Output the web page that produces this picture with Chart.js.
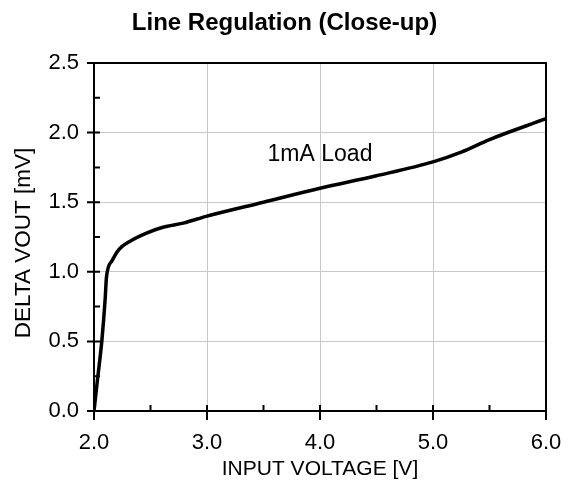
<!DOCTYPE html>
<html>
<head>
<meta charset="utf-8">
<script src="https://cdn.jsdelivr.net/npm/chart.js@4/dist/chart.umd.min.js"></script>
<style>
  html, body { margin: 0; padding: 0; background: #fff; }
  #wrap { width: 569px; height: 484px; }
</style>
</head>
<body>
<div id="wrap"><canvas id="chart" width="569" height="484"></canvas></div>
<script>
// ── Data ──────────────────────────────────────────────────────────────────
const inputVoltage = [2.00, 2.03, 2.07, 2.10, 2.11, 2.16, 2.22, 2.32, 2.47, 2.61, 2.79, 3.00, 3.50, 4.00, 4.50, 5.00, 5.25, 5.50, 6.00];
const deltaVout    = [0.00, 0.22, 0.51, 0.82, 0.96, 1.08, 1.16, 1.22, 1.28, 1.32, 1.35, 1.40, 1.50, 1.60, 1.69, 1.79, 1.86, 1.95, 2.10];
const xTicks = [2.0, 3.0, 4.0, 5.0, 6.0];
const yTicks = [0.0, 0.5, 1.0, 1.5, 2.0, 2.5];
const xMinorTicks = [2.5, 3.5, 4.5, 5.5];
const yMinorTicks = [0.25, 0.75, 1.25, 1.75, 2.25];
const seriesLabel = '1mA Load';
const seriesLabelPos = { x: 4.0, y: 1.84 };
const yTitle = 'DELTA VOUT [mV]';

const font = "Arial, 'Liberation Sans', sans-serif";

// Frame + inward/outward tick marks, drawn over the grid
const framePlugin = {
    id: 'frame',
    afterDatasetsDraw(chart) {
        const { ctx, chartArea: a, scales: { x, y } } = chart;
        ctx.save();
        ctx.strokeStyle = '#000';
        ctx.lineWidth = 2;
        ctx.strokeRect(a.left, a.top, a.right - a.left, a.bottom - a.top);
        ctx.beginPath();
        yTicks.forEach(v => { const p = y.getPixelForValue(v); ctx.moveTo(a.left - 7, p); ctx.lineTo(a.left + 6, p); });
        yMinorTicks.forEach(v => { const p = y.getPixelForValue(v); ctx.moveTo(a.left, p); ctx.lineTo(a.left + 6, p); });
        xTicks.forEach(v => { const p = x.getPixelForValue(v); ctx.moveTo(p, a.bottom + 9); ctx.lineTo(p, a.bottom - 6); });
        xMinorTicks.forEach(v => { const p = x.getPixelForValue(v); ctx.moveTo(p, a.bottom); ctx.lineTo(p, a.bottom - 6); });
        ctx.stroke();
        ctx.fillStyle = '#000';
        ctx.textAlign = 'center';
        ctx.textBaseline = 'middle';
        // series label
        ctx.font = `23px ${font}`;
        ctx.fillText(seriesLabel, x.getPixelForValue(seriesLabelPos.x), y.getPixelForValue(seriesLabelPos.y));
        // y axis title, sits a little below the plot centre in the original
        ctx.font = `22.5px ${font}`;
        ctx.translate(24, (a.top + a.bottom) / 2 + 6);
        ctx.rotate(-Math.PI / 2);
        ctx.fillText(yTitle, 0, 0);
        ctx.restore();
    }
};

new Chart(document.getElementById('chart'), {
    type: 'line',
    data: {
        datasets: [{
            label: seriesLabel,
            data: inputVoltage.map((v, i) => ({ x: v, y: deltaVout[i] })),
            borderColor: '#000',
            borderWidth: 3.5,
            pointRadius: 0,
            cubicInterpolationMode: 'monotone',
            fill: false
        }]
    },
    options: {
        responsive: false, animation: false,
        layout: { padding: 0 },
        plugins: {
            legend: { display: false },
            tooltip: { enabled: false },
            title: {
                display: true,
                text: 'Line Regulation (Close-up)',
                color: '#000',
                font: { family: font, size: 24, weight: 'bold', lineHeight: 1.2 },
                padding: { top: 9, bottom: 25.2 }
            }
        },
        scales: {
            x: {
                type: 'linear', min: 2, max: 6,
                afterBuildTicks: s => { s.ticks = xTicks.map(v => ({ value: v })); },
                afterFit: s => { s.height = 73; s.paddingLeft = 0; s.paddingRight = 23; },
                grid: { color: '#c8c8c8', lineWidth: 1, drawTicks: false },
                border: { display: false },
                ticks: { color: '#000', padding: 19, font: { family: font, size: 22 }, callback: v => v.toFixed(1) },
                title: { display: true, text: 'INPUT VOLTAGE [V]', color: '#000', font: { family: font, size: 21 }, padding: { top: 0, bottom: 2 } }
            },
            y: {
                type: 'linear', min: 0, max: 2.5,
                afterBuildTicks: s => { s.ticks = yTicks.map(v => ({ value: v })); },
                afterFit: s => { s.width = 94; s.paddingTop = 0; s.paddingBottom = 0; },
                grid: { color: '#c8c8c8', lineWidth: 1, drawTicks: false },
                border: { display: false },
                ticks: { color: '#000', padding: 15, font: { family: font, size: 22 }, callback: v => v.toFixed(1) },
                title: { display: false }
            }
        }
    },
    plugins: [framePlugin]
});
</script>
</body>
</html>
